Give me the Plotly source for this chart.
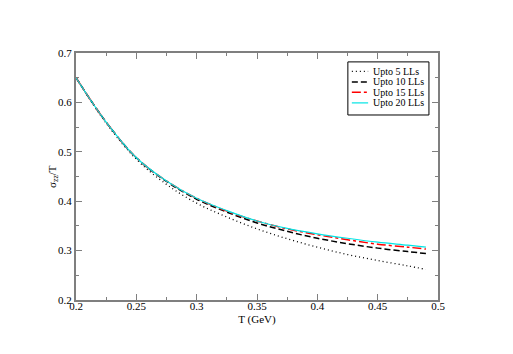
import plotly.graph_objects as go

# temperature grid (GeV)
T = [0.2, 0.225, 0.25, 0.275, 0.3, 0.325, 0.35, 0.375, 0.4, 0.425, 0.45, 0.475, 0.49]

# sigma_zz / T for successive numbers of Landau levels
upto_5 = [0.65, 0.558, 0.485, 0.434, 0.396, 0.368, 0.344, 0.324, 0.307, 0.292, 0.280, 0.269, 0.262]
upto_10 = [0.65, 0.560, 0.488, 0.440, 0.404, 0.378, 0.356, 0.339, 0.325, 0.314, 0.305, 0.298, 0.294]
upto_15 = [0.65, 0.560, 0.488, 0.441, 0.406, 0.380, 0.360, 0.344, 0.332, 0.322, 0.313, 0.307, 0.303]
upto_20 = [0.65, 0.560, 0.488, 0.441, 0.406, 0.381, 0.360, 0.345, 0.334, 0.325, 0.317, 0.311, 0.307]

x_ticks = [0.2, 0.25, 0.3, 0.35, 0.4, 0.45, 0.5]
x_labels = ["0.2", "0.25", "0.3", "0.35", "0.4", "0.45", "0.5"]
y_ticks = [0.2, 0.3, 0.4, 0.5, 0.6, 0.7]
y_labels = ["0.2", "0.3", "0.4", "0.5", "0.6", "0.7"]

series = [
    ("Upto 5 LLs", upto_5, "black", "1px,3px", 1.3),
    ("Upto 10 LLs", upto_10, "black", "6px,3px", 1.5),
    ("Upto 15 LLs", upto_15, "red", "dashdot", 1.5),
    ("Upto 20 LLs", upto_20, "#00e5e5", "solid", 1.2),
]

serif = "Liberation Serif"

fig = go.Figure()
for name, vals, color, dash, width in series:
    fig.add_trace(go.Scatter(
        x=T, y=vals, name=name, mode="lines", showlegend=False,
        line=dict(color=color, dash=dash, width=width, shape="spline"),
    ))

# compact boxed legend, drawn in paper coordinates
row_y = [0.926, 0.883, 0.841, 0.798]
fig.add_shape(type="rect", xref="paper", yref="paper",
              x0=0.751, x1=0.975, y0=0.749, y1=0.964,
              line=dict(color="black", width=1), fillcolor="white", layer="above")
for (name, vals, color, dash, width), ry in zip(series, row_y):
    fig.add_shape(type="line", xref="paper", yref="paper",
                  x0=0.762, x1=0.807, y0=ry, y1=ry, layer="above",
                  line=dict(color=color, dash=dash, width=width))
    fig.add_annotation(xref="paper", yref="paper", x=0.815, y=ry,
                       xanchor="left", yanchor="middle", showarrow=False,
                       text=name, font=dict(family=serif, size=10, color="black"))

# y axis title placed a little closer to the tick labels
fig.add_annotation(xref="paper", yref="paper", x=-0.065, y=0.5,
                   xanchor="center", yanchor="middle", showarrow=False,
                   textangle=-90, text="σ<sub>zz</sub>/T",
                   font=dict(family=serif, size=11, color="black"))

axis_style = dict(
    showgrid=False, zeroline=False,
    showline=True, linecolor="#7f7f7f", linewidth=2, mirror="ticks",
    ticks="inside", ticklen=6, tickcolor="#7f7f7f", tickwidth=1,
    tickfont=dict(family=serif, size=11, color="black"),
)

fig.update_xaxes(
    range=[0.2, 0.5], tickvals=x_ticks, ticktext=x_labels,
    ticklabelstandoff=-5,
    minor=dict(ticks="inside", ticklen=3, dtick=0.025, tickcolor="#7f7f7f"),
    title=dict(text="T (GeV)", standoff=4,
               font=dict(family=serif, size=11, color="black")),
    **axis_style,
)
fig.update_yaxes(
    range=[0.2, 0.7], tickvals=y_ticks, ticktext=y_labels,
    minor=dict(ticks="inside", ticklen=3, dtick=0.05, tickcolor="#7f7f7f"),
    **axis_style,
)

fig.update_layout(
    width=505, height=346,
    margin=dict(l=68, r=75, t=45, b=54),
    paper_bgcolor="white", plot_bgcolor="white",
)

fig.write_html("out.html")
